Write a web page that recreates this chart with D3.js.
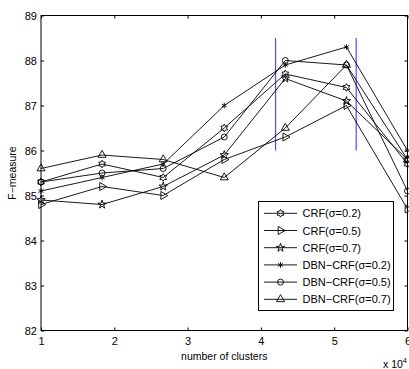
<!doctype html>
<html>
    <head>
        <title>F-measure vs number of clusters</title>
        <script src="https://d3js.org/d3.v7.min.js"></script>
        <style>
            body { margin: 0; background: #fff; }
            text {
                font-family: 'Liberation Sans', Arial, sans-serif;
                fill: #000;
            }
            .tick text { font-size: 11px; }
            .label { font-size: 10.5px; text-anchor: middle; }
            .legend_text { font-size: 11px; }
        </style>
    </head>
    <body>
        <svg height="369" id="chart" width="409"></svg>
        <script>
            // x values in units of 10^4 clusters
            const clusters = [1, 1.833, 2.667, 3.5, 4.333, 5.167, 6];
            const seriesNames = ["CRF(σ=0.2)", "CRF(σ=0.5)", "CRF(σ=0.7)",
                                 "DBN−CRF(σ=0.2)", "DBN−CRF(σ=0.5)", "DBN−CRF(σ=0.7)"];
            const crf02 = [85.3, 85.7, 85.4, 86.5, 87.7, 87.4, 85.7];
            const crf05 = [84.8, 85.2, 85.0, 85.8, 86.3, 87.0, 84.7];
            const crf07 = [84.9, 84.8, 85.2, 85.9, 87.6, 87.1, 85.8];
            const dbn02 = [85.1, 85.4, 85.7, 87.0, 87.9, 88.3, 86.0];
            const dbn05 = [85.3, 85.5, 85.6, 86.3, 88.0, 87.9, 85.1];
            const dbn07 = [85.6, 85.9, 85.8, 85.4, 86.5, 87.9, 85.8];
            const xTicks = [1, 2, 3, 4, 5, 6];
            const yTicks = [82, 83, 84, 85, 86, 87, 88, 89];
            // blue markers: x positions and y span
            const markerX = [4.2, 5.3];
            const markerY = [86, 88.5];

            const allSeries = [crf02, crf05, crf07, dbn02, dbn05, dbn07];

            // six-pointed star (MATLAB 'hexagram')
            const symbolHexagram = {
                draw(context, size) {
                    const r = Math.sqrt(size / 1.6);
                    const ri = r / Math.sqrt(3);
                    for (let i = 0; i < 12; i++) {
                        const a = -Math.PI / 2 + i * Math.PI / 6;
                        const rr = i % 2 === 0 ? r : ri;
                        if (i === 0) context.moveTo(rr * Math.cos(a), rr * Math.sin(a));
                        else context.lineTo(rr * Math.cos(a), rr * Math.sin(a));
                    }
                    context.closePath();
                }
            };
            const markers = [
                {type: symbolHexagram, size: 24, rotate: 0},
                {type: d3.symbolTriangle, size: 28, rotate: 90},
                {type: d3.symbolStar, size: 22, rotate: 0},
                {type: d3.symbolAsterisk, size: 22, rotate: 0},
                {type: d3.symbolCircle, size: 28, rotate: 0},
                {type: d3.symbolTriangle, size: 28, rotate: 0}
            ];

            const plotLeft = 41, plotRight = 407.5, plotTop = 15.5, plotBottom = 330.5;
            const chart = d3.select("#chart");
            const scaleX = d3.scaleLinear().domain([1, 6]).range([plotLeft, plotRight]);
            const scaleY = d3.scaleLinear().domain([82, 89]).range([plotBottom, plotTop]);

            const xAxis = d3.axisBottom(scaleX).tickValues(xTicks).tickSize(-3).tickPadding(7).tickFormat(d3.format("d"));
            const xAxisTop = d3.axisTop(scaleX).tickValues(xTicks).tickSize(-3).tickFormat("");
            const yAxis = d3.axisLeft(scaleY).tickValues(yTicks).tickSize(-3).tickPadding(4).tickFormat(d3.format("d"));
            const yAxisRight = d3.axisRight(scaleY).tickValues(yTicks).tickSize(-3).tickFormat("");

            const axes = [
                [xAxis, "translate(0," + plotBottom + ")"],
                [xAxisTop, "translate(0," + plotTop + ")"],
                [yAxis, "translate(" + plotLeft + ",0)"],
                [yAxisRight, "translate(" + plotRight + ",0)"]
            ];
            axes.forEach(([ax, tr]) => {
                const g = chart.append("g").attr("transform", tr).call(ax);
                g.select(".domain").remove();
                g.selectAll(".tick line").attr("stroke", "#000");
                g.attr("font-family", null).attr("font-size", null);
            });

            chart.append("rect")
                .attr("x", plotLeft).attr("y", plotTop)
                .attr("width", plotRight - plotLeft).attr("height", plotBottom - plotTop)
                .attr("fill", "none").attr("stroke", "#000").attr("stroke-width", 1);

            // blue vertical markers
            chart.append("g").selectAll("line")
                .data(markerX)
                .enter()
                .append("line")
                .attr("x1", d => scaleX(d)).attr("x2", d => scaleX(d))
                .attr("y1", scaleY(markerY[0])).attr("y2", scaleY(markerY[1]))
                .attr("stroke", "#4a4aff").attr("stroke-width", 1.2);

            const line = d3.line()
                .x((d, i) => scaleX(clusters[i]))
                .y(d => scaleY(d));

            const symbolPath = (m) => d3.symbol().type(m.type).size(m.size)();

            allSeries.forEach((values, s) => {
                const g = chart.append("g");
                g.append("path")
                    .attr("d", line(values))
                    .attr("fill", "none").attr("stroke", "#000").attr("stroke-width", 0.9);
                g.selectAll("path.mark")
                    .data(values)
                    .enter()
                    .append("path")
                    .attr("class", "mark")
                    .attr("d", symbolPath(markers[s]))
                    .attr("transform", (d, i) => "translate(" + scaleX(clusters[i]) + "," + scaleY(d) + ") rotate(" + markers[s].rotate + ")")
                    .attr("fill", "none").attr("stroke", "#000").attr("stroke-width", 0.9);
            });

            // legend
            const legendX = 258.5, legendY = 201.5, legendW = 135, legendH = 109;
            const rowY0 = 213.3, rowStep = 17.2;
            chart.append("rect")
                .attr("x", legendX).attr("y", legendY)
                .attr("width", legendW).attr("height", legendH)
                .attr("fill", "#fff").attr("stroke", "#000").attr("stroke-width", 1);

            const legend = chart.append("g")
                .selectAll("g")
                .data(seriesNames)
                .enter()
                .append("g")
                .attr("transform", (d, i) => "translate(0," + (rowY0 + i * rowStep) + ")");
            legend.append("line")
                .attr("x1", 264).attr("x2", 297)
                .attr("stroke", "#000").attr("stroke-width", 0.9);
            legend.append("path")
                .attr("d", (d, i) => symbolPath(markers[i]))
                .attr("transform", (d, i) => "translate(280.5,0) rotate(" + markers[i].rotate + ")")
                .attr("fill", "none").attr("stroke", "#000").attr("stroke-width", 0.9);
            legend.append("text")
                .attr("class", "legend_text")
                .attr("x", 302.5).attr("y", 4)
                .text(d => d);

            // axis labels
            chart.append("text")
                .attr("class", "label")
                .attr("x", (plotLeft + plotRight) / 2).attr("y", 360)
                .text("number of clusters");
            chart.append("text")
                .attr("class", "label")
                .attr("transform", "translate(16," + (plotTop + plotBottom) / 2 + ") rotate(-90)")
                .text("F−measure");
            const expo = chart.append("text")
                .attr("x", 383).attr("y", 368)
                .attr("font-size", "10.5px");
            expo.append("tspan").text("x 10");
            expo.append("tspan").attr("font-size", "7.5px").attr("dy", -5).text("4");
        </script>
    </body>
</html>
